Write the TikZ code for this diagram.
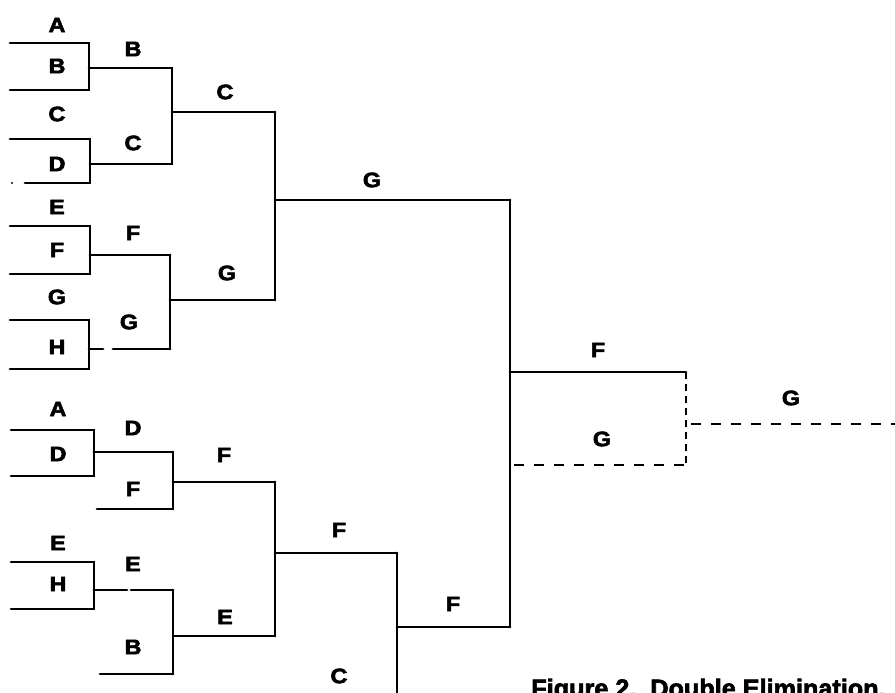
\documentclass[tikz,border=0pt]{standalone}
\usepackage{fontspec}
\setmainfont{Liberation Sans}
\newfontfamily\heavyfont{Liberation Sans}[UprightFont={* Bold}, FakeBold=2.5]
\newcommand{\tag}[1]{\scalebox{1.12}[1]{#1}}
\begin{document}
\begin{tikzpicture}[x=1pt,y=-1pt,
  line width=2.7pt, line cap=round, line join=miter,
  lbl/.style={font=\heavyfont\fontsize{21}{21}\selectfont, inner sep=0pt},
  brk/.style={draw=black},
  dsh/.style={draw=black, dash pattern=on 10pt off 10pt, line cap=butt},
  vdsh/.style={draw=black, dash pattern=on 7pt off 5pt, line cap=butt}]
\useasboundingbox (0,0) rectangle (895,693);
\clip (0,0) rectangle (895,693);

% ---------- winners' bracket ----------
\draw[brk] (10,43) -- (89,43) -- (89,90) -- (10,90);
\draw[brk] (89,68) -- (172,68);
\draw[brk] (10,139) -- (90,139) -- (90,183) -- (25,183);
\fill (12,183) circle (1.2pt);
\draw[brk] (90,164) -- (172,164);
\draw[brk] (172,68) -- (172,164);
\draw[brk] (172,112) -- (275,112);

\draw[brk] (10,226) -- (90,226) -- (90,274) -- (10,274);
\draw[brk] (90,255) -- (170,255);
\draw[brk] (10,320) -- (89,320) -- (89,369) -- (10,369);
\draw[brk] (89,349) -- (103,349);
\draw[brk] (113,349) -- (170,349);
\draw[brk] (170,255) -- (170,349);
\draw[brk] (170,300) -- (275,300);

\draw[brk] (275,112) -- (275,300);
\draw[brk] (275,200) -- (510,200);
\draw[brk] (510,200) -- (510,627);

% ---------- final ----------
\draw[brk] (510,372) -- (686,372);
\draw[dsh] (514,465) -- (686,465);
\draw[vdsh] (686,372) -- (686,465);
\draw[dsh] (691,424) -- (895,424);

% ---------- losers' bracket ----------
\draw[brk] (11,430) -- (94,430) -- (94,476) -- (11,476);
\draw[brk] (94,452) -- (173,452);
\draw[brk] (97,509) -- (173,509);
\draw[brk] (173,452) -- (173,509);
\draw[brk] (173,482) -- (275,482);

\draw[brk] (11,562) -- (94,562) -- (94,609) -- (11,609);
\draw[brk] (94,590) -- (127,590);
\draw[brk] (131,590) -- (173,590);
\draw[brk] (100,674) -- (173,674);
\draw[brk] (173,590) -- (173,674);
\draw[brk] (173,636) -- (275,636);

\draw[brk] (275,482) -- (275,636);
\draw[brk] (275,553) -- (397,553);
\draw[brk] (397,553) -- (397,705);
\draw[brk] (397,627) -- (510,627);

% ---------- labels ----------
\node[lbl] (wa) at (57,25) {\tag{A}};
\node[lbl] (wb) at (57,66) {\tag{B}};
\node[lbl] (wc) at (57,114) {\tag{C}};
\node[lbl] (wd) at (57,164) {\tag{D}};
\node[lbl] (we) at (57,207) {\tag{E}};
\node[lbl] (wf) at (57,250) {\tag{F}};
\node[lbl] (wg) at (57,297) {\tag{G}};
\node[lbl] (wh) at (57,347) {\tag{H}};

\node[lbl] (r2a) at (133,49) {\tag{B}};
\node[lbl] (r2b) at (133,143) {\tag{C}};
\node[lbl] (r2c) at (133,233) {\tag{F}};
\node[lbl] (r2d) at (129,322) {\tag{G}};

\node[lbl] (r3a) at (225,92) {\tag{C}};
\node[lbl] (r3b) at (227,273) {\tag{G}};
\node[lbl] (wwin) at (372,180) {\tag{G}};

\node[lbl] (la) at (58,409) {\tag{A}};
\node[lbl] (ld) at (58,454) {\tag{D}};
\node[lbl] (le) at (58,543) {\tag{E}};
\node[lbl] (lh) at (58,584) {\tag{H}};

\node[lbl] (l2a) at (133,428) {\tag{D}};
\node[lbl] (l2b) at (133,489) {\tag{F}};
\node[lbl] (l2c) at (133,564) {\tag{E}};
\node[lbl] (l2d) at (133,647) {\tag{B}};

\node[lbl] (l3a) at (224,455) {\tag{F}};
\node[lbl] (l3b) at (225,617) {\tag{E}};
\node[lbl] (l4a) at (339,530) {\tag{F}};
\node[lbl] (l4b) at (339,676) {\tag{C}};
\node[lbl] (l5) at (453,604) {\tag{F}};

\node[lbl] (fa) at (598,350) {\tag{F}};
\node[lbl] (fb) at (602,439) {\tag{G}};
\node[lbl] (champ) at (791,398) {\tag{G}};

\node[anchor=base west, inner sep=0pt, font=\heavyfont\fontsize{25.2}{25.2}\selectfont]
  (caption) at (530,697) {Figure 2.\ \ Double Elimination.};
\end{tikzpicture}
\end{document}
